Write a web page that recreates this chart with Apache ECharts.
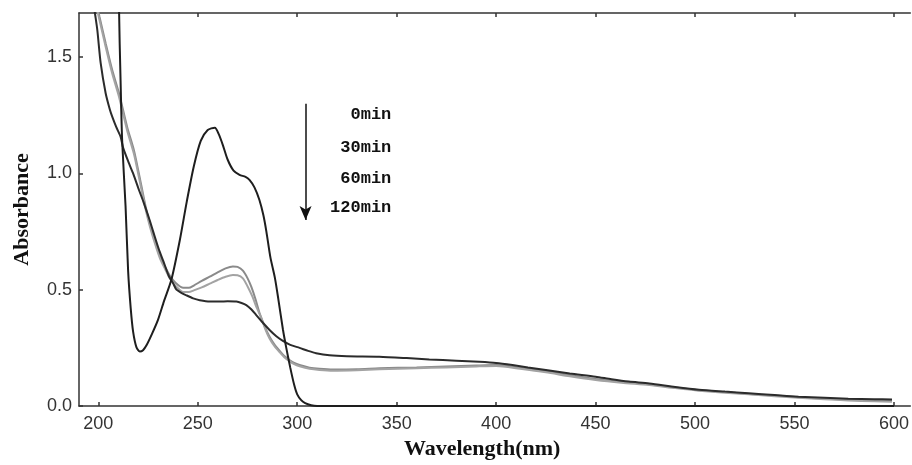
<!DOCTYPE html>
<html>
<head>
<meta charset="utf-8">
<script src="https://cdn.jsdelivr.net/npm/echarts@6/dist/echarts.min.js"></script>
<style>
html,body{margin:0;padding:0;background:#fff;}
#chart{width:912px;height:465px;}
</style>
</head>
<body>
<div id="chart"></div>
<script>
// ---- data ----
var seriesNames = ['0min', '30min', '60min', '120min'];
var xTicks = [200, 250, 300, 350, 400, 450, 500, 550, 600];
var yTicks = [0, 0.5, 1.0, 1.5];

var data0 = [
  [209.5, 3.0], [210.4, 1.72], [211.2, 1.4], [212, 1.14], [213.7, 0.86], [215, 0.58], [216.3, 0.42],
  [217.5, 0.32], [219.2, 0.252], [220.9, 0.234], [222.5, 0.24], [224.3, 0.262], [227, 0.31],
  [230, 0.37], [233, 0.45], [236.8, 0.545], [241, 0.714], [244.5, 0.88], [248, 1.03],
  [251.5, 1.14], [255, 1.187], [258.6, 1.197], [260.5, 1.17], [262.7, 1.12], [265, 1.06], [268, 1.012],
  [271, 0.994], [274, 0.985], [276, 0.972], [278.5, 0.94], [281, 0.886], [283, 0.82], [284.5, 0.75],
  [286.5, 0.64], [288.8, 0.55], [290.5, 0.46], [292.8, 0.33], [294.5, 0.25], [296.5, 0.165],
  [298.5, 0.09], [300, 0.05], [302, 0.025], [304, 0.012], [307, 0.003], [310, 0], [350, 0],
  [400, 0], [450, 0], [500, 0], [550, 0], [600, 0]
];

var data30 = [
  [199, 1.74], [200.6, 1.674], [203.7, 1.56], [207, 1.445], [210.4, 1.345], [214.5, 1.2], [217.9, 1.1],
  [220.4, 1.0], [223.8, 0.857], [226, 0.78], [228.8, 0.7], [231, 0.645], [233.8, 0.595], [236, 0.56],
  [238.8, 0.53], [242.7, 0.508], [245.5, 0.508], [248, 0.518], [252, 0.538], [256, 0.556], [260, 0.575],
  [264, 0.592], [267.7, 0.6], [270, 0.598], [272.7, 0.582], [275, 0.55], [276.9, 0.513], [279, 0.46],
  [281.1, 0.399], [283.5, 0.345], [286.1, 0.298], [288.5, 0.265], [291.1, 0.238], [293.5, 0.215],
  [296.1, 0.198], [298.5, 0.185], [301.2, 0.176], [306.2, 0.165], [311.2, 0.16], [318, 0.157],
  [330, 0.158], [341.3, 0.162], [360, 0.166], [374.7, 0.17], [390, 0.174], [400, 0.176], [412, 0.165],
  [425, 0.15], [437, 0.133], [450, 0.116], [463, 0.104], [477, 0.093], [490, 0.08], [502, 0.068],
  [515, 0.06], [527, 0.052], [540, 0.045], [552, 0.038], [565, 0.032], [577, 0.027], [590, 0.024],
  [599, 0.022]
];

var data60 = [
  [199, 1.72], [200.6, 1.66], [203.7, 1.545], [207, 1.43], [210.4, 1.33], [214.5, 1.185], [217.9, 1.085],
  [220.4, 0.985], [223.8, 0.845], [226, 0.77], [228.8, 0.69], [231, 0.635], [233.8, 0.585], [236, 0.548],
  [238.8, 0.517], [242.7, 0.49], [245.5, 0.49], [248, 0.497], [252, 0.51], [256, 0.526], [260, 0.542],
  [264, 0.556], [267.7, 0.563], [270, 0.562], [272.7, 0.549], [275, 0.515], [277.5, 0.47], [279.5, 0.425],
  [281.9, 0.38], [284, 0.33], [286.1, 0.29], [288.5, 0.258], [291.1, 0.232], [293.5, 0.21],
  [296.1, 0.193], [298.5, 0.18], [301.2, 0.171], [306.2, 0.16], [311.2, 0.155], [318, 0.152],
  [330, 0.154], [341.3, 0.158], [360, 0.162], [374.7, 0.166], [390, 0.17], [400, 0.172], [412, 0.16],
  [425, 0.145], [437, 0.128], [450, 0.112], [463, 0.1], [477, 0.09], [490, 0.077], [502, 0.066],
  [515, 0.057], [527, 0.05], [540, 0.042], [552, 0.035], [565, 0.029], [577, 0.024], [590, 0.02],
  [599, 0.018]
];

var data120 = [
  [197.5, 1.74], [198.3, 1.69], [199.5, 1.617], [201.2, 1.474], [203.7, 1.345], [205.8, 1.275],
  [207, 1.244], [209, 1.2], [211.2, 1.158], [212.5, 1.11], [215.4, 1.044], [217.5, 1.0], [220.4, 0.93],
  [222.6, 0.88], [225.4, 0.81], [227.6, 0.75], [230.4, 0.675], [232.6, 0.625], [235.4, 0.56],
  [237.6, 0.528], [239.3, 0.5], [241.5, 0.488], [244.3, 0.476], [247.7, 0.463], [251, 0.455],
  [256, 0.449], [261, 0.449], [265, 0.45], [269.4, 0.449], [272, 0.443], [274.4, 0.434], [277, 0.415],
  [279.4, 0.391], [282.5, 0.36], [286.1, 0.327], [289.5, 0.3], [292.8, 0.28], [296.5, 0.263],
  [301.2, 0.25], [305.5, 0.237], [309.5, 0.227], [316.2, 0.218], [325, 0.214], [341.3, 0.212],
  [355, 0.206], [366.4, 0.2], [380, 0.195], [391.5, 0.19], [400, 0.185], [408.2, 0.176], [416, 0.166],
  [425, 0.155], [437, 0.14], [450, 0.126], [458, 0.115], [466.7, 0.105], [477, 0.097], [490, 0.082],
  [502, 0.07], [515, 0.062], [527, 0.055], [540, 0.047], [552, 0.04], [565, 0.035], [577, 0.031],
  [590, 0.029], [599, 0.028]
];

// annotation (arrow + labels), in data units
var arrowX = 304.2, arrowTop = 1.30, arrowBottom = 0.80;
var labelX = 347.3;
var labelY = [1.252, 1.11, 0.976, 0.852];

// ---- chart ----
var chart = echarts.init(document.getElementById('chart'), null, {renderer: 'canvas'});
var axisLineStyle = {color: '#333', width: 1.5};
var tickFont = {fontFamily: 'Liberation Sans, Arial, sans-serif', fontSize: 18, color: '#333'};

function mkSeries(name, d, color, width, z) {
  return {
    name: name, type: 'line', data: d, showSymbol: false, symbol: 'none',
    smooth: 0.25, z: z,
    lineStyle: {color: color, width: width},
    clip: true, silent: true, animation: false
  };
}

var option = {
  backgroundColor: '#ffffff',
  animation: false,
  grid: {left: 79, top: 13, right: 0, bottom: 59, containLabel: false},
  xAxis: [{
    type: 'value', min: 190.3, max: 608.2, position: 'bottom',
    name: 'Wavelength(nm)', nameLocation: 'middle', nameGap: 29,
    nameTextStyle: {fontFamily: 'Liberation Serif, Times New Roman, serif', fontWeight: 'bold', fontSize: 22, color: '#111', padding: [0, 25, 0, 0]},
    axisLine: {show: true, onZero: false, lineStyle: axisLineStyle},
    axisTick: {show: true, inside: true, length: 4, customValues: xTicks, lineStyle: {color: '#333', width: 1.5}},
    axisLabel: Object.assign({margin: 9, customValues: xTicks}, tickFont),
    splitLine: {show: false}
  }, {
    type: 'value', min: 190.3, max: 608.2, position: 'top',
    axisLine: {show: true, onZero: false, lineStyle: axisLineStyle},
    axisTick: {show: true, inside: true, length: 4, customValues: xTicks, lineStyle: {color: '#333', width: 1.5}},
    axisLabel: {show: false},
    splitLine: {show: false}
  }],
  yAxis: {
    type: 'value', min: 0, max: 1.69,
    name: 'Absorbance', nameLocation: 'middle', nameGap: 46, nameRotate: 90,
    nameTextStyle: {fontFamily: 'Liberation Serif, Times New Roman, serif', fontWeight: 'bold', fontSize: 22, color: '#111'},
    axisLine: {show: true, onZero: false, lineStyle: axisLineStyle},
    axisTick: {show: true, inside: true, length: 4, customValues: yTicks, lineStyle: {color: '#333', width: 1.5}},
    axisLabel: Object.assign({margin: 7, customValues: yTicks, formatter: function (v) { return v.toFixed(1); }}, tickFont),
    splitLine: {show: false}
  },
  series: [
    mkSeries(seriesNames[1], data30, '#8a8a8a', 2, 2),
    mkSeries(seriesNames[2], data60, '#a3a3a3', 2, 2),
    mkSeries(seriesNames[3], data120, '#2b2b2b', 2, 3),
    Object.assign(mkSeries(seriesNames[0], data0, '#1e1e1e', 2, 4), {
      markLine: {
        silent: true, symbol: ['none', 'arrow'], symbolSize: [9, 14],
        label: {show: false},
        lineStyle: {color: '#111', width: 1.5, type: 'solid'},
        data: [[{coord: [arrowX, arrowTop]}, {coord: [arrowX, arrowBottom]}]]
      }
    })
  ]
};
chart.setOption(option);

var g = [];
for (var i = 0; i < seriesNames.length; i++) {
  var p = chart.convertToPixel({xAxisIndex: 0, yAxisIndex: 0}, [labelX, labelY[i]]);
  g.push({
    type: 'text', x: p[0], y: p[1], z: 10,
    style: {text: seriesNames[i], align: 'right', verticalAlign: 'middle',
      font: 'bold 17px "Liberation Mono", "Courier New", monospace', fill: '#111'}
  });
}
chart.setOption({graphic: g});
</script>
</body>
</html>
